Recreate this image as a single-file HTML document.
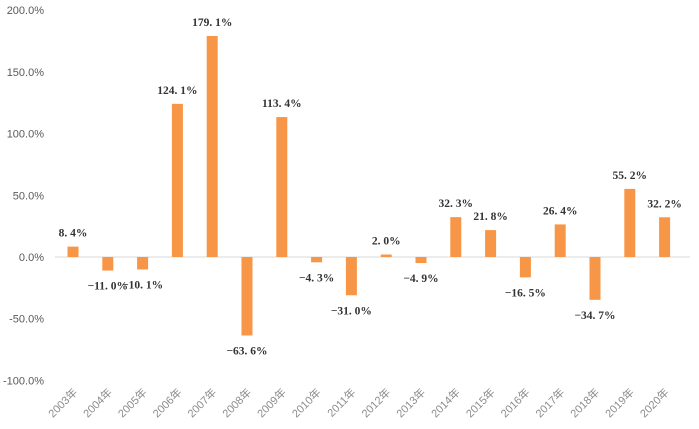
<!DOCTYPE html>
<html><head><meta charset="utf-8"><style>
body{margin:0;background:#fff;width:699px;height:429px;overflow:hidden}
svg{display:block}
</style></head><body>
<svg id="chart" width="699" height="429" xmlns="http://www.w3.org/2000/svg"></svg>
<script>
const categories=["2003年","2004年","2005年","2006年","2007年","2008年","2009年","2010年","2011年","2012年","2013年","2014年","2015年","2016年","2017年","2018年","2019年","2020年"];
const values=[8.4,-11.0,-10.1,124.1,179.1,-63.6,113.4,-4.3,-31.0,2.0,-4.9,32.3,21.8,-16.5,26.4,-34.7,55.2,32.2];
const yTicks=[200,150,100,50,0,-50,-100];
const NS="http://www.w3.org/2000/svg";
const svg=document.getElementById('chart');
const zeroY=257, pxPer=1.234;
const y=v=>zeroY-v*pxPer;
const x0=73, step=34.8, bw=11;
const x=i=>x0+i*step;
function mk(t,a){const e=document.createElementNS(NS,t);for(const k in a)e.setAttribute(k,a[k]);svg.appendChild(e);return e;}
yTicks.forEach(t=>{
  const e=mk('text',{x:44,y:y(t)+4,'text-anchor':'end','font-family':'Liberation Sans, sans-serif','font-size':'11',fill:'#595959'});
  e.textContent=t.toFixed(1)+'%';
  
  
});
const ax=mk('line',{x1:55,x2:690,y1:zeroY,y2:zeroY,stroke:'#d9d9d9','stroke-width':1});


values.forEach((v,i)=>{
  const top=Math.min(y(v),zeroY), h=Math.abs(y(v)-zeroY);
  const r=mk('rect',{x:x(i)-bw/2,y:top,width:bw,height:h,fill:'#F79646'});
  
  
  const ly=v>=0?y(v)-10:y(v)+19;
  const l=mk('text',{x:x(i),y:ly,'text-anchor':'middle','font-family':'Liberation Serif, Noto Serif CJK SC, serif','font-weight':'bold','font-size':'11.5',fill:'#333'});
  l.textContent=(v<0?'−'+Math.abs(v).toFixed(1):v.toFixed(1)).replace('.','. ')+'%';
  
  
  const c=mk('text',{transform:`translate(${x(i)+5},${393}) rotate(-45)`,'text-anchor':'end','font-family':'Liberation Sans, Noto Sans CJK SC, sans-serif','font-size':'11',fill:'#8c8c8c'});
  c.textContent=categories[i];
  
  
});
</script>
</body></html>
